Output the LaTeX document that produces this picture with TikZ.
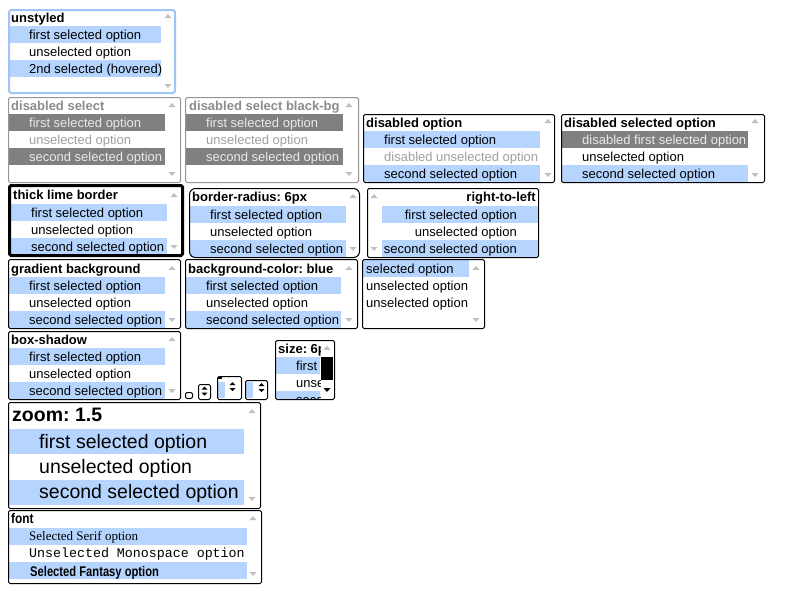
\documentclass[tikz,border=0pt]{standalone}
\usepackage{graphicx}
\usepackage{fontspec}
\setmainfont{Liberation Sans}
\newfontfamily\serifopt{Liberation Serif}
\newfontfamily\monoopt{Liberation Mono}
\definecolor{selblue}{RGB}{181,213,255}
\definecolor{selgray}{RGB}{128,128,128}
\definecolor{dishdr}{RGB}{140,140,140}
\definecolor{disun}{RGB}{160,160,160}
\definecolor{dissel}{RGB}{234,234,234}
\definecolor{arrgray}{RGB}{192,192,192}
\definecolor{focusblue}{RGB}{160,196,245}
\definecolor{dbord}{RGB}{150,150,150}
\newcommand{\scrarr}[3]{%
  \fill[arrgray] ({#1-3.5},{#2+2}) -- ({#1+3.5},{#2+2}) -- (#1,{#2-2}) -- cycle;
  \fill[arrgray] ({#1-3.5},{#3-2}) -- ({#1+3.5},{#3-2}) -- (#1,{#3+2}) -- cycle;}
\newcommand{\spinarr}[2]{%
  \fill[black] ({#1-3},{#2-1.5}) -- ({#1+3},{#2-1.5}) -- (#1,{#2-4.5}) -- cycle;
  \fill[black] ({#1-3},{#2+1.5}) -- ({#1+3},{#2+1.5}) -- (#1,{#2+4.5}) -- cycle;}
\tikzset{
  selbox/.style={draw=black, line width=1pt, rounded corners=1.5pt},
  disbox/.style={draw=dbord, line width=1pt, rounded corners=1.5pt},
  txt/.style={anchor=base west, inner sep=0pt, font=\fontsize{13}{15}\selectfont},
  rtxt/.style={anchor=base east, inner sep=0pt, font=\fontsize{13}{15}\selectfont},
  hdr/.style={txt, font=\fontsize{13}{15}\selectfont\bfseries},
  bigtxt/.style={anchor=base west, inner sep=0pt, font=\fontsize{19.5}{22}\selectfont},
}
\frenchspacing
\begin{document}
\begin{tikzpicture}[x=1pt,y=-1pt]
\useasboundingbox (0,0) rectangle (800,600);
\fill[white] (0,0) rectangle (800,600);

% 1 unstyled
\fill[selblue] (10,26) rectangle (161,43);
\fill[selblue] (10,60) rectangle (161,77);
\draw[draw=focusblue, line width=2pt, rounded corners=2.5pt] (9,10) rectangle (175,93);
\node[hdr] (h1) at (11,22) {unstyled};
\node[txt] (a1) at (29,39) {first selected option};
\node[txt] (a2) at (29,56) {unselected option};
\node[txt] (a3) at (29,73) {2nd selected (hovered)};
\scrarr{168}{16}{86}

% 2 disabled select
\fill[selgray] (9,114) rectangle (165,131);
\fill[selgray] (9,148) rectangle (165,165);
\draw[disbox] (8.5,97.5) rectangle (180.5,182.5);
\node[hdr, text=dishdr] (h2) at (11,110) {disabled select};
\node[txt, text=dissel] (b1) at (29,127) {first selected option};
\node[txt, text=disun] (b2) at (29,144) {unselected option};
\node[txt, text=dissel] (b3) at (29,161) {second selected option};
\scrarr{172}{105}{174}

% 3 disabled select black-bg
\fill[selgray] (186,114) rectangle (343,131);
\fill[selgray] (186,148) rectangle (343,165);
\draw[disbox] (185.5,97.5) rectangle (358.5,182.5);
\node[hdr, text=dishdr] (h3) at (189,110) {disabled select black-bg};
\node[txt, text=dissel] (c1) at (206,127) {first selected option};
\node[txt, text=disun] (c2) at (206,144) {unselected option};
\node[txt, text=dissel] (c3) at (206,161) {second selected option};
\scrarr{349}{105}{174}

% 4 disabled option
\fill[selblue] (364,131) rectangle (540,148);
\fill[selblue] (364,165) rectangle (540,182);
\draw[selbox] (363.5,114.5) rectangle (554.5,182.5);
\node[hdr] (h4) at (366,127) {disabled option};
\node[txt] (d1) at (384,144) {first selected option};
\node[txt, text=disun] (d2) at (384,161) {disabled unselected option};
\node[txt] (d3) at (384,178) {second selected option};
\scrarr{548}{121}{175}

% 5 disabled selected option
\fill[selgray] (562,131) rectangle (748,148);
\fill[selblue] (562,165) rectangle (748,182);
\draw[selbox] (561.5,114.5) rectangle (764.5,182.5);
\node[hdr] (h5) at (564,127) {disabled selected option};
\node[txt, text=dissel] (e1) at (582,144) {disabled first selected option};
\node[txt] (e2) at (582,161) {unselected option};
\node[txt] (e3) at (582,178) {second selected option};
\scrarr{755}{121}{175}

% 6 thick lime border
\fill[selblue] (11,204) rectangle (167,221);
\fill[selblue] (11,238) rectangle (167,255);
\draw[draw=black, line width=3pt, rounded corners=1.5pt] (9.5,185.5) rectangle (182.5,255.5);
\node[hdr] (h6) at (13,199) {thick lime border};
\node[txt] (f1) at (31,217) {first selected option};
\node[txt] (f2) at (31,234) {unselected option};
\node[txt] (f3) at (31,251) {second selected option};
\scrarr{174}{195}{247}

% 7 border-radius
\fill[selblue] (190,206) rectangle (346,223);
\fill[selblue] (190,240) rectangle (346,257);
\draw[selbox, rounded corners=6pt] (189.5,188.5) rectangle (359.5,257.5);
\node[hdr] (h7) at (192,201) {border-radius: 6px};
\node[txt] (g1) at (210,219) {first selected option};
\node[txt] (g2) at (210,236) {unselected option};
\node[txt] (g3) at (210,253) {second selected option};
\scrarr{353}{196}{249}

% 8 right-to-left
\fill[selblue] (382,206) rectangle (538,223);
\fill[selblue] (382,240) rectangle (538,257);
\draw[selbox] (367.5,188.5) rectangle (538.5,257.5);
\node[hdr, anchor=base east] (h8) at (536,201) {right-to-left};
\node[rtxt] (k1) at (517,219) {first selected option};
\node[rtxt] (k2) at (517,236) {unselected option};
\node[rtxt] (k3) at (517,253) {second selected option};
\scrarr{374}{196}{249}

% 9 gradient background
\fill[selblue] (9,277) rectangle (165,294);
\fill[selblue] (9,311) rectangle (165,328);
\draw[selbox] (8.5,259.5) rectangle (180.5,328.5);
\node[hdr] (h9) at (11,273) {gradient background};
\node[txt] (m1) at (29,290) {first selected option};
\node[txt] (m2) at (29,307) {unselected option};
\node[txt] (m3) at (29,324) {second selected option};
\scrarr{172}{268}{320}

% 10 background-color: blue
\fill[selblue] (186,277) rectangle (341,294);
\fill[selblue] (186,311) rectangle (341,328);
\draw[selbox] (185.5,259.5) rectangle (357.5,328.5);
\node[hdr] (h10) at (188,273) {background-color: blue};
\node[txt] (n1) at (206,290) {first selected option};
\node[txt] (n2) at (206,307) {unselected option};
\node[txt] (n3) at (206,324) {second selected option};
\scrarr{349}{268}{320}

% 11 plain
\fill[selblue] (363,260) rectangle (469,277);
\draw[selbox] (362.5,259.5) rectangle (484.5,328.5);
\node[txt] (p1) at (366,273) {selected option};
\node[txt] (p2) at (366,290) {unselected option};
\node[txt] (p3) at (366,307) {unselected option};
\scrarr{476}{268}{320}

% 12 box-shadow
\fill[selblue] (9,348) rectangle (165,365);
\fill[selblue] (9,382) rectangle (165,399);
\draw[selbox] (8.5,331.5) rectangle (180.5,399.5);
\node[hdr] (h12) at (11,344) {box-shadow};
\node[txt] (q1) at (29,361) {first selected option};
\node[txt] (q2) at (29,378) {unselected option};
\node[txt] (q3) at (29,395) {second selected option};
\scrarr{172}{339}{391}

% small selects
\draw[selbox, rounded corners=2pt] (185.5,392.5) rectangle (192.5,398.5);
\draw[selbox] (198.5,384.5) rectangle (210.5,399.5);
\spinarr{204.5}{391}
\fill[selblue] (218,382) rectangle (225,398);
\fill[black] (218,377) rectangle (222,378.5);
\draw[selbox] (217.5,376.5) rectangle (241.5,399.5);
\spinarr{232.5}{386.5}
\fill[selblue] (246,382) rectangle (253,398);
\draw[selbox] (245.5,380.5) rectangle (267.5,399.5);
\spinarr{261.5}{387.5}

% size box
\fill[selblue] (276,357) rectangle (320,374);
\fill[selblue] (276,391) rectangle (320,399);
\begin{scope}
\clip (276,341) rectangle (320,398);
\node[hdr] (h13) at (278,353) {size: 6px};
\node[txt] (r1) at (296,370) {first selected option};
\node[txt] (r2) at (296,387) {unselected option};
\node[txt] (r3) at (296,404.5) {second selected option};
\end{scope}
\fill[black] (321,357) rectangle (333,380);
\fill[arrgray] (323.5,350) -- (330.5,350) -- (327,346) -- cycle;
\fill[black] (323.5,388) -- (330.5,388) -- (327,392) -- cycle;
\draw[selbox] (275.5,340.5) rectangle (334.5,399.5);

% zoom box
\fill[selblue] (9,429) rectangle (244,454);
\fill[selblue] (9,480) rectangle (244,505);
\draw[selbox] (8.5,402.5) rectangle (260.5,508.5);
\node[bigtxt, font=\fontsize{19.5}{22}\selectfont\bfseries] (h14) at (12,421) {zoom: 1.5};
\node[bigtxt] (s1) at (39,448) {first selected option};
\node[bigtxt] (s2) at (39,473) {unselected option};
\node[bigtxt] (s3) at (39,498) {second selected option};
\scrarr{252}{411}{499}

% font box
\fill[selblue] (9,528) rectangle (247,545);
\fill[selblue] (9,562) rectangle (247,579);
\draw[selbox] (8.5,510.5) rectangle (261.5,583.5);
\node[txt] (h15) at (11,523) {\scalebox{0.85}[1]{\fontsize{14}{16}\selectfont\bfseries font}};
\node[txt] (u1) at (29,540) {\serifopt\fontsize{13}{15}\selectfont Selected Serif option};
\node[txt] (u2) at (29,557) {\monoopt\fontsize{13.3}{15}\selectfont Unselected Monospace option};
\node[txt] (u3) at (30,576) {\scalebox{0.8}[1]{\fontsize{14}{16}\selectfont\bfseries Selected Fantasy option}};
\scrarr{253}{518}{574}
\end{tikzpicture}
\end{document}
